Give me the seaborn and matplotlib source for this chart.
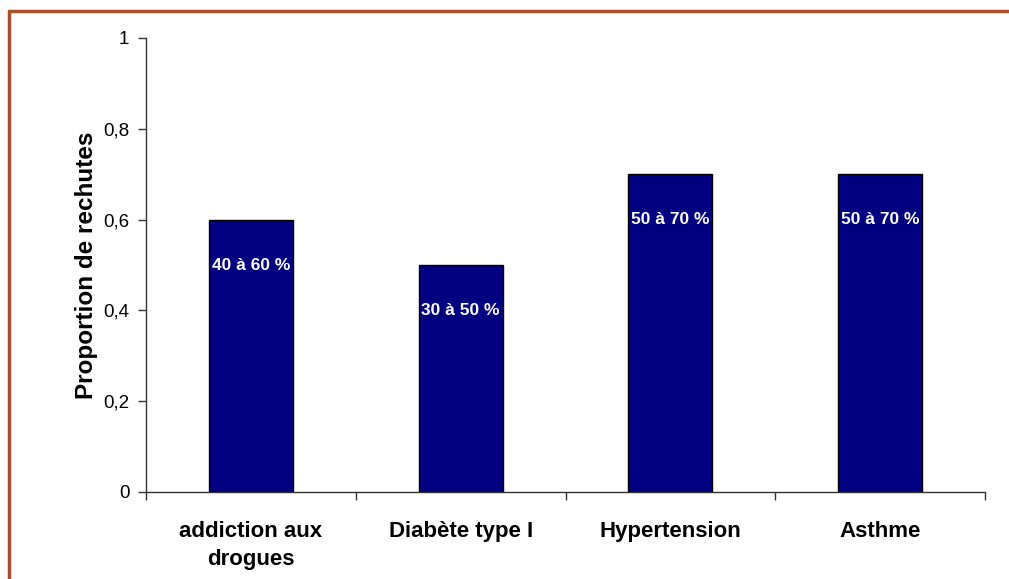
import matplotlib
matplotlib.use("Agg")
import matplotlib.pyplot as plt
from matplotlib.lines import Line2D
from matplotlib.ticker import FixedLocator, FuncFormatter
import seaborn as sns
import pandas as pd

categories = ["addiction aux\ndrogues", "Diabète type I", "Hypertension", "Asthme"]
values = [0.6, 0.5, 0.7, 0.7]
ranges = ["40 à 60 %", "30 à 50 %", "50 à 70 %", "50 à 70 %"]
yticks = [0, 0.2, 0.4, 0.6, 0.8, 1.0]

sns.set_theme(style="white")
plt.rcParams["font.family"] = ["Liberation Sans", "DejaVu Sans"]
plt.rcParams["text.color"] = "black"
plt.rcParams["axes.labelcolor"] = "black"
plt.rcParams["xtick.color"] = "black"
plt.rcParams["ytick.color"] = "black"

df = pd.DataFrame({"cat": categories, "val": values})

fig = plt.figure(figsize=(10.09, 5.79), dpi=100)
ax = fig.add_axes([146 / 1009, 1 - 492 / 579, (985 - 146) / 1009, (492 - 38) / 579])

sns.barplot(data=df, x="cat", y="val", color="#000080", width=0.4,
            edgecolor="black", linewidth=1, saturation=1, ax=ax)

ax.set_xlim(-0.5, len(categories) - 0.5)
ax.set_ylim(0, 1)
ax.yaxis.set_major_locator(FixedLocator(yticks))
ax.yaxis.set_major_formatter(FuncFormatter(lambda v, p: f"{v:g}".replace(".", ",")))
ax.tick_params(axis="y", direction="out", length=6, width=1, color="#333333",
               labelsize=13.5, pad=6, left=True)
ax.tick_params(axis="x", which="major", length=0, labelsize=16, pad=21)
ax.set_xticks([i - 0.5 for i in range(len(categories) + 1)], minor=True)
ax.tick_params(axis="x", which="minor", direction="out", length=6, width=1,
               color="#333333", bottom=True)
for lbl in ax.get_xticklabels():
    lbl.set_fontweight("bold")
    lbl.set_linespacing(1.43)

ax.set_xlabel("")
ax.set_ylabel("Proportion de rechutes", fontsize=17.5, fontweight="bold", labelpad=4)

for side in ("top", "right"):
    ax.spines[side].set_visible(False)
for side in ("left", "bottom"):
    ax.spines[side].set_color("#333333")
    ax.spines[side].set_linewidth(1)

for i, (v, txt) in enumerate(zip(values, ranges)):
    ax.text(i, v - 0.1, txt, ha="center", va="center", color="white",
            fontsize=12.5, fontweight="bold")

# Brown frame around the figure
frame_color = "#A9512B"
fig.add_artist(Line2D([9 / 1009, 9 / 1009], [0, 1 - 11 / 579], transform=fig.transFigure,
                      color=frame_color, linewidth=2.5))
fig.add_artist(Line2D([9 / 1009, 1], [1 - 11 / 579, 1 - 11 / 579], transform=fig.transFigure,
                      color=frame_color, linewidth=2.5))

fig.savefig("out.png", dpi=100)
